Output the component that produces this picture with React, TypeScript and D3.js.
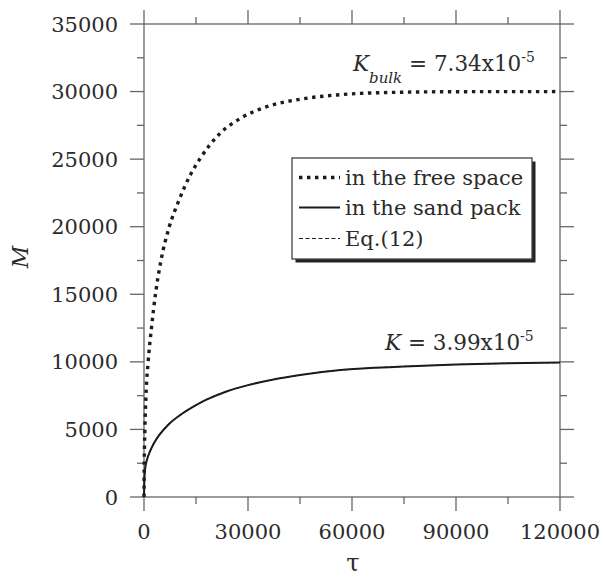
import React from "react";
import * as d3 from "d3";

// Release curve of mass M versus dimensionless time tau
const freeTau = [0, 50, 260, 560, 1200, 2150, 3300, 4900, 7300, 10000, 13300, 16200, 21900, 27700, 35400, 45000, 55600, 70000, 90000, 120000];
const freeM = [0, 2000, 5000, 7500, 10000, 12500, 15000, 17500, 20000, 21900, 23800, 25050, 26900, 28000, 28880, 29430, 29750, 29930, 29990, 30000];

const sandTau = [0, 100, 300, 800, 1700, 2700, 4600, 7000, 10500, 14000, 18000, 24000, 30000, 37000, 45000, 56000, 65000, 75000, 90000, 105000, 120000];
const sandM = [0, 1300, 2000, 2700, 3350, 3900, 4650, 5350, 6080, 6650, 7200, 7830, 8280, 8680, 9030, 9380, 9540, 9660, 9800, 9890, 9950];

// Eq.(12) prediction, coincident with the sand pack curve
const eqTau = sandTau;
const eqM = sandM;

const xMajor = [0, 30000, 60000, 90000, 120000];
const xMinor = [15000, 45000, 75000, 105000];
const yMajor = [0, 5000, 10000, 15000, 20000, 25000, 30000, 35000];
const yMinor = [2500, 7500, 12500, 17500, 22500, 27500, 32500];

const legendLabels = ["in the free space", "in the sand pack", "Eq.(12)"];

const FONT = "'DejaVu Serif'";
const TEXT = "#2b2b2b";
const AXIS = "#666";
const INK = "#1c1c1c";

export default function App() {
  const x = d3.scaleLinear().domain([0, 120000]).range([144, 560]);
  const y = d3.scaleLinear().domain([0, 35000]).range([497, 24]);
  const [x0, x1] = x.range();
  const [y0, y1] = y.range();

  const line = d3
    .line<[number, number]>()
    .x((d) => x(d[0]))
    .y((d) => y(d[1]))
    .curve(d3.curveMonotoneX);

  const freePts = freeTau.map((t, i) => [t, freeM[i]] as [number, number]);
  const sandPts = sandTau.map((t, i) => [t, sandM[i]] as [number, number]);
  const eqPts = eqTau.map((t, i) => [t, eqM[i]] as [number, number]);

  const MAJ = 14;
  const MIN = 7;

  const lx = 292, ly = 158, lw = 240, lh = 101;
  const rowY = [177.5, 207.5, 238.5];
  const styles = [
    { stroke: INK, width: 3.4, dash: "3.4 4.6" },
    { stroke: INK, width: 2, dash: undefined },
    { stroke: INK, width: 1.2, dash: "4 2.5" },
  ];

  const txt = { fontFamily: FONT, fill: TEXT } as React.CSSProperties;

  return (
    <svg
      width={603}
      height={581}
      style={{ position: "absolute", left: 0, top: 0, background: "#fff", fontFamily: FONT }}
    >
      <rect x={0} y={0} width={603} height={581} fill="#fff" />

      {/* ticks on all four sides, pointing outward */}
      <g stroke={AXIS} strokeWidth={1.3}>
        {yMajor.map((v) => (
          <g key={"ym" + v}>
            <line x1={x0 - MAJ} x2={x0} y1={y(v)} y2={y(v)} />
            <line x1={x1} x2={x1 + MAJ} y1={y(v)} y2={y(v)} />
          </g>
        ))}
        {yMinor.map((v) => (
          <g key={"yn" + v}>
            <line x1={x0 - MIN} x2={x0} y1={y(v)} y2={y(v)} />
            <line x1={x1} x2={x1 + MIN} y1={y(v)} y2={y(v)} />
          </g>
        ))}
        {xMajor.map((v) => (
          <g key={"xm" + v}>
            <line x1={x(v)} x2={x(v)} y1={y0} y2={y0 + MAJ} />
            <line x1={x(v)} x2={x(v)} y1={y1 - MAJ} y2={y1} />
          </g>
        ))}
        {xMinor.map((v) => (
          <g key={"xn" + v}>
            <line x1={x(v)} x2={x(v)} y1={y0} y2={y0 + MIN} />
            <line x1={x(v)} x2={x(v)} y1={y1 - MIN} y2={y1} />
          </g>
        ))}
        <rect x={x0} y={y1} width={x1 - x0} height={y0 - y1} fill="none" />
      </g>

      {/* tick labels */}
      <g fontSize={21}>
        {yMajor.map((v) => (
          <text key={"yl" + v} style={txt} x={118} y={y(v)} dy="0.36em" textAnchor="end">
            {v}
          </text>
        ))}
        {xMajor.map((v) => (
          <text key={"xl" + v} style={txt} x={x(v)} y={539} textAnchor="middle">
            {v}
          </text>
        ))}
      </g>

      {/* axis titles */}
      <text style={txt} x={353} y={571} textAnchor="middle" fontSize={24}>
        τ
      </text>
      <text
        style={txt}
        transform="translate(28,257) rotate(-90)"
        textAnchor="middle"
        fontSize={22}
        fontStyle="italic"
      >
        M
      </text>

      {/* curves */}
      <path d={line(sandPts) || ""} fill="none" stroke={INK} strokeWidth={2} />
      <path d={line(eqPts) || ""} fill="none" stroke={INK} strokeWidth={1.1} strokeDasharray="4 2.5" />
      <path
        d={line(freePts) || ""}
        fill="none"
        stroke={INK}
        strokeWidth={3.4}
        strokeDasharray="3.4 4.6"
      />

      {/* annotations */}
      <text style={txt} x={353} y={71} fontSize={21.5}>
        <tspan fontStyle="italic">K</tspan>
        <tspan fontStyle="italic" fontSize={15} dy={11.5}>bulk</tspan>
        <tspan dy={-11.5}> = 7.34x10</tspan>
        <tspan fontSize={14} dy={-9}>-5</tspan>
      </text>
      <text style={txt} x={385} y={350} fontSize={21.5}>
        <tspan fontStyle="italic">K</tspan>
        <tspan> = 3.99x10</tspan>
        <tspan fontSize={14} dy={-9}>-5</tspan>
      </text>

      {/* legend */}
      <rect x={lx + 3.5} y={ly + 3.5} width={lw} height={lh} fill="#222" />
      <rect x={lx} y={ly} width={lw} height={lh} fill="#fff" stroke="#444" strokeWidth={1.3} />
      {legendLabels.map((lab, i) => (
        <g key={lab}>
          <line
            x1={299}
            x2={340}
            y1={rowY[i]}
            y2={rowY[i]}
            stroke={styles[i].stroke}
            strokeWidth={styles[i].width}
            strokeDasharray={styles[i].dash}
          />
          <text style={txt} x={345} y={rowY[i]} dy="0.36em" fontSize={21}>
            {lab}
          </text>
        </g>
      ))}
    </svg>
  );
}
